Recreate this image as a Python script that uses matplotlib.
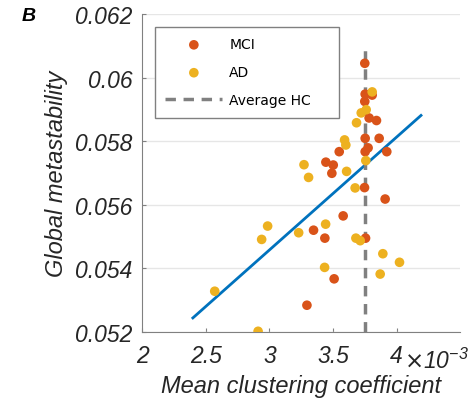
import matplotlib.pyplot as plt
from matplotlib.transforms import blended_transform_factory

# mean clustering coefficient (x1e-3) and global metastability
mci_x = [3.750, 3.753, 3.808, 3.750, 3.784, 3.842, 3.753, 3.863, 3.776, 3.753, 3.549, 3.923,
         3.444, 3.502, 3.491, 3.748, 3.910, 3.580, 3.347, 3.436, 3.756, 3.509, 3.295]
mci_y = [0.06045, 0.05948, 0.05945, 0.05925, 0.05873, 0.05865, 0.05809, 0.05809, 0.05779,
         0.05767, 0.05767, 0.05767, 0.05734, 0.05725, 0.05699, 0.05654, 0.05618, 0.05565,
         0.05520, 0.05495, 0.05495, 0.05367, 0.05284]

ad_x = [3.808, 3.761, 3.722, 3.685, 3.591, 3.601, 3.758, 3.272, 3.607, 3.308, 3.674, 2.986,
        3.230, 3.442, 2.939, 3.680, 3.714, 3.892, 4.023, 3.434, 3.871, 2.570, 2.911]
ad_y = [0.05955, 0.05899, 0.05889, 0.05858, 0.05804, 0.05788, 0.05739, 0.05726, 0.05705,
        0.05686, 0.05653, 0.05533, 0.05512, 0.05539, 0.05491, 0.05495, 0.05487, 0.05446,
        0.05419, 0.05403, 0.05382, 0.05328, 0.05202]

fit_x = [2.398, 4.192]
fit_y = [0.05244, 0.05881]

hc_x = 3.753
hc_y = [0.052, 0.0609]

xticks = [2, 2.5, 3, 3.5, 4]
yticks = [0.052, 0.054, 0.056, 0.058, 0.06, 0.062]
ytick_labels = ["0.052", "0.054", "0.056", "0.058", "0.06", "0.062"]


def main():
    fig = plt.figure(figsize=(4.71, 4.06), dpi=100)
    ax = fig.add_axes([0.302, 0.18, 0.675, 0.783])

    ax.plot(fit_x, fit_y, color="#0072BD", lw=2, zorder=2)
    ax.scatter(mci_x, mci_y, s=48, color="#D95319", edgecolors="none", label="MCI", zorder=3)
    ax.scatter(ad_x, ad_y, s=48, color="#EDB120", edgecolors="none", label="AD", zorder=3)
    ax.plot([hc_x, hc_x], hc_y, color="#808080", lw=2.5, ls=(0, (3, 2.2)),
            label="Average HC", zorder=2.5)

    ax.set_xlim(2, 4.5)
    ax.set_ylim(0.052, 0.062)
    ax.set_xticks(xticks)
    ax.set_xticklabels([("%g" % t) for t in xticks])
    ax.set_yticks(yticks)
    ax.set_yticklabels(ytick_labels)

    tick_font = dict(family="Liberation Sans", style="italic", size=16.5)
    for lab in ax.get_xticklabels() + ax.get_yticklabels():
        lab.set_fontfamily("Liberation Sans")
        lab.set_fontstyle("italic")
        lab.set_fontsize(16.5)
        lab.set_color("#262626")
    ax.tick_params(direction="in", length=3, color="#808080")
    ax.tick_params(axis="x", pad=9)
    ax.tick_params(axis="y", pad=7)
    trans = blended_transform_factory(ax.transData, ax.transAxes)
    ax.text(4.055, -0.05, r"$\times$10$^{\mathregular{-3}}$", transform=trans,
            ha="left", va="top", color="#262626", **tick_font)

    ax.grid(axis="y", color="#e6e6e6", lw=1)
    ax.set_axisbelow(True)
    for side in ["top", "right"]:
        ax.spines[side].set_visible(False)
    for side in ["left", "bottom"]:
        ax.spines[side].set_color("#808080")
        ax.spines[side].set_linewidth(0.8)

    ax.set_xlabel("Mean clustering coefficient", fontfamily="Liberation Sans",
                  style="italic", fontsize=17, color="#262626", labelpad=5)
    ax.set_ylabel("Global metastability", fontfamily="Liberation Sans",
                  style="italic", fontsize=17, color="#262626", labelpad=5)

    leg = ax.legend(loc="upper left", bbox_to_anchor=(0.04, 0.676, 0.579, 0.283),
                    mode="expand", borderaxespad=0, fontsize=10,
                    handlelength=4.1, handletextpad=0.5, labelspacing=1.0, fancybox=False,
                    framealpha=1, edgecolor="#808080", borderpad=0.75)
    leg.get_frame().set_linewidth(1)

    fig.text(0.045, 0.96, "B", fontsize=14, fontweight="bold", style="italic",
             fontfamily="Liberation Sans", va="center")

    fig.savefig("out.png", dpi=100)


if __name__ == "__main__":
    main()
